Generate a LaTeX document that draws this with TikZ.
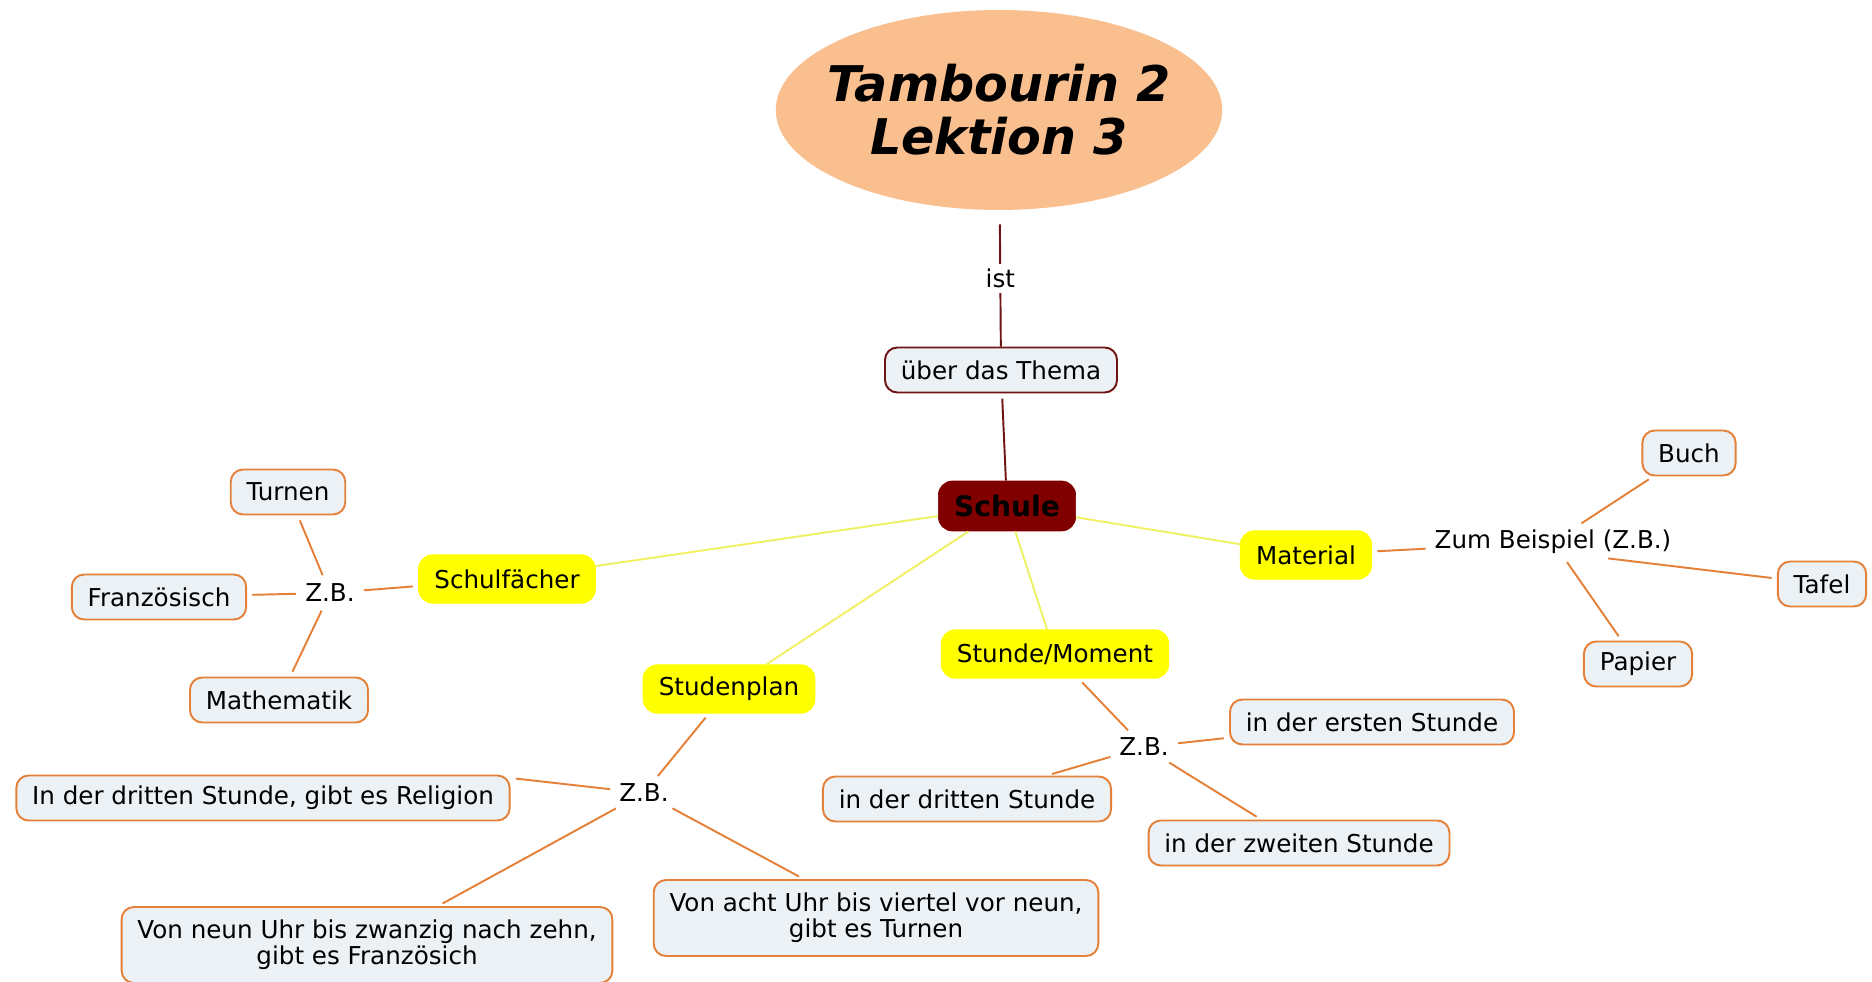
\documentclass[tikz,border=0pt]{standalone}
\usepackage{fontspec}
\setmainfont{DejaVu Sans}
\usepackage{xcolor}
\usepackage{tikz}
\usetikzlibrary{shapes.geometric, calc, positioning}

\definecolor{titelfarbe}{RGB}{250,191,143}
\definecolor{kernfarbe}{RGB}{128,0,0}
\definecolor{gelbfarbe}{RGB}{255,255,0}
\definecolor{blattrand}{RGB}{228,128,56}
\definecolor{blattgrund}{RGB}{235,241,245}
\definecolor{gelblinie}{RGB}{240,240,100}
\definecolor{rotlinie}{RGB}{110,20,20}

\begin{document}
\begin{tikzpicture}[x=0.02cm, y=-0.02cm, ast/.style = {line width=1.1pt, draw=blattrand, shorten <=3pt, shorten >=3pt}]
				\tikzset{blatt/.style={draw=blattrand, fill=blattgrund, line width=1.1pt, rounded corners=7pt, inner xsep=9pt, minimum height=0.9cm, font=\fontsize{14}{15}\selectfont}}
				\tikzset{fach/.style={draw=gelbfarbe, fill=gelbfarbe, rounded corners=8pt, inner xsep=9pt, minimum height=0.97cm, font=\fontsize{14}{15}\selectfont}}
				\tikzset{zb/.style={inner sep=2pt, font=\fontsize{14}{15}\selectfont}}

				\useasboundingbox (0,0) rectangle (1872,982);

				% Titel
				\node[ellipse, fill=titelfarbe, minimum width=8.84cm, minimum height=4cm, inner xsep=-0.28cm, inner ysep=0pt, align=center, font=\fontsize{28}{30}\selectfont\bfseries\itshape] (titel) at (999,110) {Tambourin 2\\Lektion 3};

				\node[draw=rotlinie, fill=blattgrund, line width=1.1pt, rounded corners=7pt, inner xsep=9pt, minimum height=0.9cm, font=\fontsize{14}{15}\selectfont] (thema) at (1001,370) {über das Thema};

				\node[draw=kernfarbe, fill=kernfarbe, rounded corners=8pt, inner xsep=9pt, minimum height=1cm, font=\fontsize{16}{18}\selectfont\bfseries] (schule) at (1007,506) {Schule};

				% Themen
				\node[fach] (faecher) at (507,579) {Schulfächer};
				\node[fach] (material) at (1306,555) {Material};
				\node[fach] (stunde) at (1055,654) {Stunde/Moment};
				\node[fach] (plan) at (729,689) {Studenplan};

				% Schulfaecher
				\node[zb] (zbf) at (330,593) {Z.B.};
				\node[blatt] (turnen) at (288,492) {Turnen};
				\node[blatt] (franz) at (159,597) {Französisch};
				\node[blatt] (mathe) at (279,700) {Mathematik};

				% Material
				\node[zb] (zbm) at (1553,542) {Zum Beispiel (Z.B.)};
				\node[blatt] (buch) at (1689,453) {Buch};
				\node[blatt] (tafel) at (1822,584) {Tafel};
				\node[blatt] (papier) at (1638,664) {Papier};

				% Stunde/Moment
				\node[zb] (zbs) at (1144,747) {Z.B.};
				\node[blatt] (erste) at (1372,722) {in der ersten Stunde};
				\node[blatt] (dritte) at (967,799) {in der dritten Stunde};
				\node[blatt] (zweite) at (1299,843) {in der zweiten Stunde};

				% Studenplan
				\node[zb] (zbp) at (644,793) {Z.B.};
				\node[blatt] (religion) at (263,798) {In der dritten Stunde, gibt es Religion};
				\node[blatt, align=center, minimum height=1.52cm] (neun) at (367,945) {Von neun Uhr bis zwanzig nach zehn,\\gibt es Französich};
				\node[blatt, align=center, minimum height=1.52cm] (acht) at (876,918) {Von acht Uhr bis viertel vor neun,\\gibt es Turnen};

				\draw [line width=1.1pt, rotlinie, shorten <=8pt] (titel) -- node [fill=white, text=black, inner sep=3pt, font=\fontsize{14}{15}\selectfont] {ist} (thema);
				\draw [line width=1.1pt, rotlinie, shorten <=3pt] (thema) -- (schule);

				\draw [line width=1.1pt, gelblinie] (schule) -- (faecher);
				\draw [line width=1.1pt, gelblinie] (schule) -- (material);
				\draw [line width=1.1pt, gelblinie] (schule) -- (stunde);
				\draw [line width=1.1pt, gelblinie] (schule) -- (plan);

				\draw [ast] (faecher) -- (zbf);
				\draw [ast] (zbf) -- (turnen);
				\draw [ast] (zbf) -- (franz);
				\draw [ast] (zbf) -- (mathe);

				\draw [ast] (material) -- (zbm);
				\draw [ast] (zbm) -- (buch);
				\draw [ast] ($(zbm.south)+(50,0)$) -- (tafel);
				\draw [ast] (zbm) -- (papier);

				\draw [ast] (stunde) -- (zbs);
				\draw [ast] (zbs) -- (erste);
				\draw [ast] (zbs) -- (dritte);
				\draw [ast] (zbs) -- (zweite);

				\draw [ast] (plan) -- (zbp);
				\draw [ast] (zbp) -- ($(religion.east)+(0,-20)$);
				\draw [ast] (zbp) -- (neun);
				\draw [ast] (zbp) -- (acht);

			\end{tikzpicture}
\end{document}
